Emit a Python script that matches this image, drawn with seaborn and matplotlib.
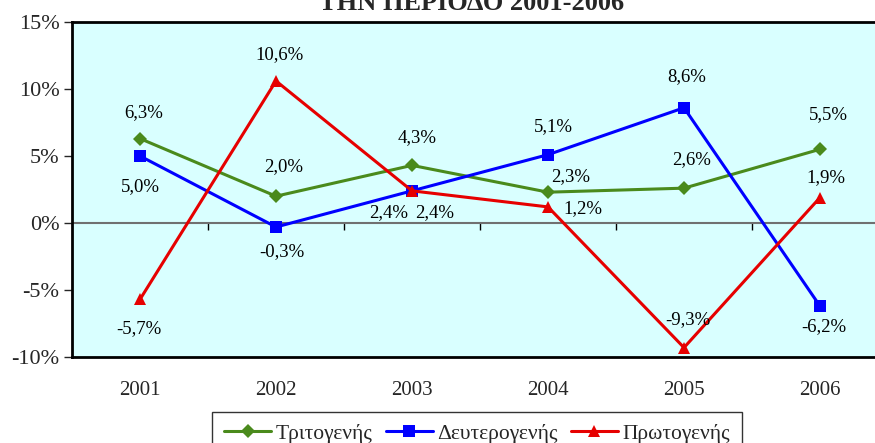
import matplotlib
matplotlib.use("Agg")
import matplotlib.pyplot as plt
import pandas as pd
import seaborn as sns

years = ["2001", "2002", "2003", "2004", "2005", "2006"]
tritogenis = [6.3, 2.0, 4.3, 2.3, 2.6, 5.5]
deuterogenis = [5.0, -0.3, 2.4, 5.1, 8.6, -6.2]
protogenis = [-5.7, 10.6, 2.4, 1.2, -9.3, 1.9]
series_names = ["Τριτογενής", "Δευτερογενής", "Πρωτογενής"]

# label offsets in pixels (dx, dy), one per point
off_tri = [(4, 26), (8, 30), (5, 28), (23, 16), (8, 29), (8, 35)]
off_deu = [(0, -31), (6, -25), (-23, -22), (5, 28), (3, 31), (4, -21)]
off_pro = [(-1, -29), (4, 26), (23, -22), (35, -2), (4, 28), (6, 20)]

rows = []
for name, vals in zip(series_names, [tritogenis, deuterogenis, protogenis]):
    for i, v in enumerate(vals):
        rows.append({"idx": i, "value": v, "series": name})
df = pd.DataFrame(rows)

sns.set_style("white")
plt.rcParams['font.family'] = ['Liberation Serif', 'DejaVu Serif']

palette = {"Τριτογενής": "#4A8A1C", "Δευτερογενής": "#0000FF", "Πρωτογενής": "#E60000"}
markers = {"Τριτογενής": "D", "Δευτερογενής": "s", "Πρωτογενής": "^"}
msize = {"Τριτογενής": 7, "Δευτερογενής": 8, "Πρωτογενής": 9}

fig = plt.figure(figsize=(8.75, 4.43), dpi=100)
ax = fig.add_axes([72 / 875, 1 - 357 / 443, (888 - 72) / 875, (357 - 22) / 443])
ax.set_facecolor("#D9FFFF")

ax.axhline(0, color="#707070", lw=1.5, zorder=1)

for name in series_names:
    sub = df[df["series"] == name]
    sns.lineplot(ax=ax, data=sub, x="idx", y="value", color=palette[name],
                 marker=markers[name], markersize=msize[name], markeredgewidth=0,
                 lw=2.2, label=name, zorder=3)

for vals, offs in zip([tritogenis, deuterogenis, protogenis], [off_tri, off_deu, off_pro]):
    for i, (v, o) in enumerate(zip(vals, offs)):
        ax.annotate(f"{v:.1f}%".replace(".", ","), (i, v), xytext=o,
                    textcoords="offset pixels", ha="center", va="center",
                    fontsize=13.5, color="black")

ax.set_xlim(-0.5, 5.5)
ax.set_ylim(-10, 15)
ax.set_yticks(range(-10, 16, 5))
ax.set_yticklabels([f"{t}%" for t in range(-10, 16, 5)], fontsize=16)
ax.set_xticks(range(len(years)))
ax.set_xticklabels(years, fontsize=15)
ax.tick_params(axis="x", length=0, pad=17)
ax.tick_params(axis="y", length=6, width=1, direction="out", left=True, pad=3)
ax.set_xlabel("")
ax.set_ylabel("")
for s in ax.spines.values():
    s.set_color("black")
    s.set_linewidth(2)

# category separator ticks on the zero line
sec = ax.secondary_xaxis(0.4)
sec.set_xticks([0.5, 1.5, 2.5, 3.5, 4.5])
sec.set_xticklabels([])
sec.tick_params(length=5, width=1, color="black", direction="out")
sec.spines["bottom"].set_visible(False)

leg = ax.legend(loc="upper center", bbox_to_anchor=(477 / 875, 1 - 412 / 443),
                bbox_transform=fig.transFigure, ncol=3, fontsize=15.5,
                frameon=True, fancybox=False, handlelength=2.2, columnspacing=0.6,
                handletextpad=0.2, borderpad=0.55, borderaxespad=0)
leg.get_frame().set_edgecolor("black")
leg.get_frame().set_linewidth(1)

fig.text(472 / 875, 1 - 10 / 443, "ΤΗΝ ΠΕΡΙΟΔΟ 2001-2006", ha="center", va="baseline",
         fontsize=19, fontweight="bold")

fig.savefig("out.png", dpi=100)
